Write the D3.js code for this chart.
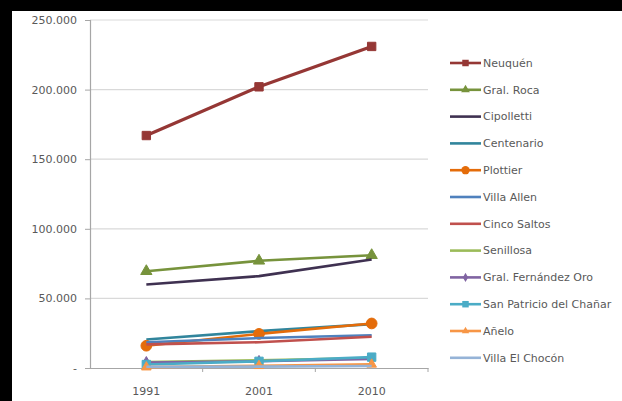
<!DOCTYPE html>
<html>
<head>
<meta charset="utf-8">
<script src="https://cdn.jsdelivr.net/npm/d3@7"></script>
<style>
  body { margin: 0; background: #000; }
  text { font-family: "DejaVu Sans", sans-serif; fill: #595959; }
</style>
</head>
<body>
<div id="chart"></div>
<script>
// categories
var years = ["1991", "2001", "2010"];
var yTicks = [0, 50000, 100000, 150000, 200000, 250000];

// series values (population per census)
var neuquen      = [167000, 202000, 231000];
var gralRoca     = [69500, 77000, 81000];
var cipolletti   = [60000, 66000, 78000];
var centenario   = [20500, 26500, 31500];
var plottier     = [16000, 24500, 32000];
var villaAllen   = [18500, 21500, 23500];
var cincoSaltos  = [17000, 18500, 22500];
var senillosa    = [4200, 5600, 7200];
var fernandezOro = [4000, 4800, 6500];
var sanPatricio  = [2500, 4800, 7800];
var anelo        = [600, 1600, 2600];
var villaChocon  = [900, 1000, 1400];

var names = ["Neuquén", "Gral. Roca", "Cipolletti", "Centenario", "Plottier", "Villa Allen",
  "Cinco Saltos", "Senillosa", "Gral. Fernández Oro", "San Patricio del Chañar", "Añelo", "Villa El Chocón"];
var values = [neuquen, gralRoca, cipolletti, centenario, plottier, villaAllen,
  cincoSaltos, senillosa, fernandezOro, sanPatricio, anelo, villaChocon];

var colors = ["#953735", "#77933C", "#3F3151", "#31859C", "#E46C0A", "#4F81BD",
  "#C0504D", "#9BBB59", "#8064A2", "#4BACC6", "#F79646", "#95B3D7"];
var markers = [d3.symbolSquare, d3.symbolTriangle, null, null, d3.symbolCircle, null,
  null, null, d3.symbolDiamond, d3.symbolSquare, d3.symbolTriangle, null];
var markerSize = [70, 55, 0, 0, 90, 0, 0, 0, 40, 70, 40, 0];

var series = names.map(function(n, i) {
  return { name: n, values: values[i], color: colors[i], marker: markers[i], size: markerSize[i] };
});

var W = 622, H = 401;
var svg = d3.select("#chart").append("svg")
  .attr("width", W).attr("height", H);

// white panel
svg.append("rect")
  .attr("x", 12).attr("y", 11)
  .attr("width", W - 12).attr("height", H - 11)
  .attr("fill", "#fff");

var plot = { left: 90, right: 428, top: 20, bottom: 368 };

var x = d3.scaleBand()
  .domain(years)
  .range([plot.left, plot.right])
  .padding(0);

var y = d3.scaleLinear()
  .domain([0, 250000])
  .range([plot.bottom, plot.top]);

// gridlines
svg.append("g").selectAll("line")
  .data(yTicks.filter(function(d) { return d > 0; }))
  .enter().append("line")
  .attr("x1", plot.left).attr("x2", plot.right)
  .attr("y1", function(d) { return y(d); })
  .attr("y2", function(d) { return y(d); })
  .attr("stroke", "#d9d9d9").attr("stroke-width", 1.2);

// y axis
var fmt = function(d) {
  return d === 0 ? "-" : d3.format(",")(d).replace(/,/g, ".");
};
var yAxis = d3.axisLeft(y).tickValues(yTicks).tickSize(5).tickFormat(fmt);
var gy = svg.append("g")
  .attr("transform", "translate(" + plot.left + ",0)")
  .call(yAxis);
gy.select(".domain").attr("stroke", "#a6a6a6").attr("stroke-width", 1.2);
gy.selectAll(".tick line").attr("stroke", "#a6a6a6");
gy.selectAll(".tick text")
  .attr("x", -13)
  .style("font-size", "11px")
  .style("font-family", "DejaVu Sans, sans-serif")
  .attr("fill", "#595959");

// x axis (ticks between categories)
var xAxis = d3.axisBottom(x).tickSize(0).tickPadding(19);
var gx = svg.append("g")
  .attr("transform", "translate(0," + plot.bottom + ")")
  .call(xAxis);
gx.select(".domain").attr("stroke", "#a6a6a6").attr("stroke-width", 1.2);
gx.selectAll(".tick text")
  .style("font-size", "11px")
  .style("font-family", "DejaVu Sans, sans-serif")
  .attr("fill", "#595959");
gx.selectAll(".sep")
  .data(years.slice(1).concat(["end"]))
  .enter().append("line")
  .attr("class", "sep")
  .attr("x1", function(d, i) { return i < 2 ? x(d) : plot.right; })
  .attr("x2", function(d, i) { return i < 2 ? x(d) : plot.right; })
  .attr("y1", 0).attr("y2", 4)
  .attr("stroke", "#a6a6a6");

var cx = function(d, i) { return x(years[i]) + x.bandwidth() / 2; };

var line = d3.line()
  .x(function(d, i) { return cx(d, i); })
  .y(function(d) { return y(d); });

// lines + markers
var groups = svg.append("g").selectAll(".series")
  .data(series)
  .enter().append("g")
  .attr("class", "series");

groups.append("path")
  .attr("d", function(d) { return line(d.values); })
  .attr("fill", "none")
  .attr("stroke", function(d) { return d.color; })
  .attr("stroke-width", function(d, i) { return i === 0 ? 3.2 : 2.6; })
  .attr("stroke-linejoin", "round");

groups.each(function(s) {
  if (!s.marker) return;
  d3.select(this).selectAll(".mk")
    .data(s.values)
    .enter().append("path")
    .attr("class", "mk")
    .attr("transform", function(d, i) { return "translate(" + cx(d, i) + "," + y(d) + ")"; })
    .attr("d", d3.symbol().type(s.marker).size(s.size))
    .attr("fill", s.color)
    .attr("stroke", s.color);
});

// legend
var legend = svg.append("g")
  .attr("transform", "translate(450,63)");
var items = legend.selectAll(".item")
  .data(series)
  .enter().append("g")
  .attr("class", "item")
  .attr("transform", function(d, i) { return "translate(0," + (i * 26.8) + ")"; });

items.append("line")
  .attr("x1", 0).attr("x2", 31)
  .attr("stroke", function(d) { return d.color; })
  .attr("stroke-width", 2.6);

items.filter(function(d) { return d.marker; })
  .append("path")
  .attr("transform", "translate(15.5,0)")
  .attr("d", function(d) { return d3.symbol().type(d.marker).size(d.size * 0.6)(); })
  .attr("fill", function(d) { return d.color; });

items.append("text")
  .attr("x", 33)
  .attr("dy", "0.35em")
  .style("font-size", "11px")
  .text(function(d) { return d.name; });
</script>
</body>
</html>
